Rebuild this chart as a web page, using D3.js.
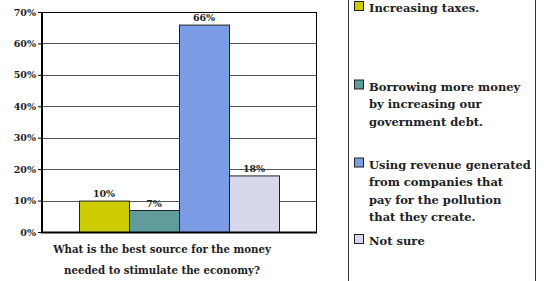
<!DOCTYPE html>
<html><head><meta charset="utf-8">
<script src="https://cdn.jsdelivr.net/npm/d3@7/dist/d3.min.js"></script>
<style>body{margin:0;background:#fff}svg{display:block}svg text{font-family:"DejaVu Serif",serif !important;font-weight:bold;fill:#222}</style>
</head><body><svg id="c" width="544" height="281"></svg>
<script>
const categories = ["What is the best source for the money needed to stimulate the economy?"];
const seriesNames = [
  "Increasing taxes.",
  "Borrowing more money by increasing our government debt.",
  "Using revenue generated from companies that pay for the pollution that they create.",
  "Not sure"
];
const legendLines = [
  ["Increasing taxes."],
  ["Borrowing more money","by increasing our","government debt."],
  ["Using revenue generated","from companies that","pay for the pollution","that they create."],
  ["Not sure"]
];
const values = [10, 7, 66, 18];
const colors = ["#cccc00", "#5f9c9a", "#7b9be4", "#d8d8ec"];
const yTicks = [0, 10, 20, 30, 40, 50, 60, 70];
const titleLines = ["What is the best source for the money", "needed to stimulate the economy?"];

const svg = d3.select("#c");
const m = {l: 42, t: 12, r: 316, b: 232};
const y = d3.scaleLinear().domain([0, 70]).range([m.b, m.t]);
const x0 = d3.scaleBand().domain(categories).range([m.l, m.r]).paddingOuter(0.185).paddingInner(0);
const x1 = d3.scaleBand().domain(seriesNames).range([0, x0.bandwidth()]).padding(0);

// gridlines
svg.append("g").selectAll("line").data(yTicks.filter(d => d > 0 && d < 70)).join("line")
  .attr("x1", m.l).attr("x2", m.r).attr("y1", d => Math.round(y(d)) + 0.5).attr("y2", d => Math.round(y(d)) + 0.5)
  .attr("stroke", "#555").attr("stroke-width", 1);
svg.append("line").attr("x1", m.l).attr("x2", m.r + 0.5).attr("y1", m.t + 0.5).attr("y2", m.t + 0.5).attr("stroke", "#000");
svg.append("line").attr("x1", m.r + 0.5).attr("x2", m.r + 0.5).attr("y1", m.t).attr("y2", m.b).attr("stroke", "#000");

// bars
const g = svg.append("g").attr("transform", `translate(${x0(categories[0])},0)`);
g.selectAll("rect").data(values).join("rect")
  .attr("x", (d, i) => x1(seriesNames[i]) + 0.5)
  .attr("y", d => y(d) + 0.5)
  .attr("width", x1.bandwidth())
  .attr("height", d => m.b - y(d))
  .attr("fill", (d, i) => colors[i])
  .attr("stroke", "#222").attr("stroke-width", 1);
g.selectAll("text").data(values).join("text")
  .attr("x", (d, i) => x1(seriesNames[i]) + x1.bandwidth() / 2)
  .attr("y", d => y(d) - 3.5)
  .attr("text-anchor", "middle").attr("font-size", 9.5)
  .text(d => d + "%");

// axes
const ya = d3.axisLeft(y).tickValues(yTicks).tickFormat(d => d + "%").tickSize(4).tickPadding(2);
const yg = svg.append("g").attr("transform", `translate(${m.l},0)`).call(ya);
yg.select(".domain").remove();
yg.selectAll(".tick line").attr("stroke", "#000");
yg.selectAll(".tick text").attr("font-size", 9.5).attr("fill", "#222");
svg.append("line").attr("x1", m.l).attr("x2", m.l).attr("y1", m.t).attr("y2", m.b + 1).attr("stroke", "#000").attr("stroke-width", 2);
svg.append("line").attr("x1", m.l - 1).attr("x2", m.r + 1).attr("y1", m.b + 0.5).attr("y2", m.b + 0.5).attr("stroke", "#000").attr("stroke-width", 2);

// title
svg.append("g").selectAll("text").data(titleLines).join("text")
  .attr("x", 162).attr("y", (d, i) => 253 + i * 21)
  .attr("text-anchor", "middle").attr("font-size", 10.2).text(d => d);

// legend
svg.append("rect").attr("x", 348.5).attr("y", -2).attr("width", 187).attr("height", 290)
  .attr("fill", "none").attr("stroke", "#333");
const legBase = [12, 90.5, 168.5, 245];
const lg = svg.append("g");
legendLines.forEach((lines, i) => {
  lg.append("rect").attr("x", 354.5).attr("y", legBase[i] - 10.5).attr("width", 9).attr("height", 9)
    .attr("fill", colors[i]).attr("stroke", "#222");
  lg.append("g").selectAll("text").data(lines).join("text")
    .attr("x", 369).attr("y", (d, j) => legBase[i] + j * 17.5)
    .attr("font-size", 11.5).text(d => d);
});
</script></body></html>
